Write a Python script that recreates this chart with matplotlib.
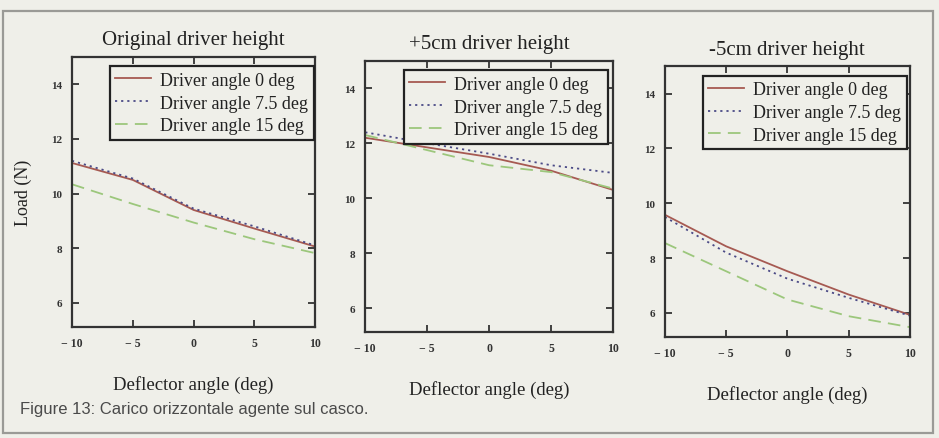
import matplotlib
matplotlib.use("Agg")
import matplotlib.pyplot as plt
from matplotlib.patches import Rectangle

# ---------------- data ----------------
deflector_angle = [-10, -5, 0, 5, 10]

titles = ["Original driver height", "+5cm driver height", "-5cm driver height"]
series_labels = ["Driver angle 0 deg", "Driver angle 7.5 deg", "Driver angle 15 deg"]

orig_0 = [11.12, 10.50, 9.40, 8.72, 8.06]
orig_75 = [11.20, 10.55, 9.45, 8.80, 8.10]
orig_15 = [10.34, 9.62, 8.94, 8.33, 7.82]

plus_0 = [12.20, 11.85, 11.50, 11.00, 10.30]
plus_75 = [12.40, 12.00, 11.62, 11.20, 10.92]
plus_15 = [12.30, 11.75, 11.20, 10.95, 10.35]

minus_0 = [9.58, 8.43, 7.52, 6.67, 5.93]
minus_75 = [9.50, 8.20, 7.25, 6.55, 5.90]
minus_15 = [8.55, 7.52, 6.49, 5.88, 5.48]

panels = [
    [orig_0, orig_75, orig_15],
    [plus_0, plus_75, plus_15],
    [minus_0, minus_75, minus_15],
]

x_ticks = [-10, -5, 0, 5, 10]
x_ticklabels = ["\u2212 10", "\u2212 5", "0", "5", "10"]
y_ticks = [6, 8, 10, 12, 14]
y_ticklabels = ["6", "8", "10", "12", "14"]

caption = "Figure 13: Carico orizzontale agente sul casco."
xlabel = "Deflector angle (deg)"
ylabel = "Load (N)"

# ---------------- style ----------------
BG = "#efefe9"
colors = ["#a65a52", "#4b4a86", "#9cc77c"]
styles = ["-", (0, (1.2, 2.2)), (0, (7, 4))]
serif = ["Liberation Serif", "DejaVu Serif"]

fig = plt.figure(figsize=(9.39, 4.39), dpi=100, facecolor=BG)

positions = [
    (0.0767, 0.253, 0.259, 0.615),
    (0.389, 0.241, 0.264, 0.618),
    (0.708, 0.230, 0.261, 0.617),
]

for i, (pos, title, data) in enumerate(zip(positions, titles, panels)):
    ax = fig.add_axes(pos, facecolor=BG)
    for vals, c, ls, lab in zip(data, colors, styles, series_labels):
        ax.plot(deflector_angle, vals, color=c, linestyle=ls, linewidth=1.3, label=lab)
    ax.set_xlim(-10, 10)
    ax.set_ylim(5.12, 15.0)
    ax.set_xticks(x_ticks)
    ax.set_xticklabels(x_ticklabels, fontfamily=serif, fontsize=8.5, fontweight="bold", color="#333333")
    ax.set_yticks(y_ticks)
    ax.set_yticklabels(y_ticklabels, fontfamily=serif, fontsize=8, fontweight="bold", color="#333333")
    ax.tick_params(direction="in", length=5, width=1.3, top=True, right=True,
                   pad=7, colors="#333333", labelcolor="#333333")
    for sp in ax.spines.values():
        sp.set_linewidth(1.6)
        sp.set_color("#333333")
    ax.set_title(title, fontfamily=serif, fontsize=15, color="#222222", pad=9)
    ax.set_xlabel(xlabel, fontfamily=serif, fontsize=13.5, color="#222222", labelpad=19)
    if i == 0:
        ax.set_ylabel(ylabel, fontfamily=serif, fontsize=13, color="#222222", labelpad=14)
    leg = ax.legend(loc="upper left", bbox_to_anchor=(0.155, 0.965), fancybox=False,
                    framealpha=1, facecolor=BG, edgecolor="#222222", borderpad=0.3,
                    labelspacing=0.32, handlelength=2.0, handletextpad=0.5,
                    borderaxespad=0, prop={"family": serif, "size": 13})
    leg.get_frame().set_linewidth(1.6)
    for t in leg.get_texts():
        t.set_color("#222222")

# caption
fig.text(20 / 939, 1 - 410 / 439, caption, fontfamily=["Liberation Sans", "DejaVu Sans"],
         fontsize=12, color="#4a4a4a", va="center", ha="left")

# outer frame
fig.patches.append(Rectangle((3 / 939, 1 - 434 / 439), 930 / 939, 422 / 439,
                             transform=fig.transFigure, fill=False,
                             edgecolor="#9a9a96", linewidth=1.6))

fig.savefig("out.png", dpi=100, facecolor=BG)
